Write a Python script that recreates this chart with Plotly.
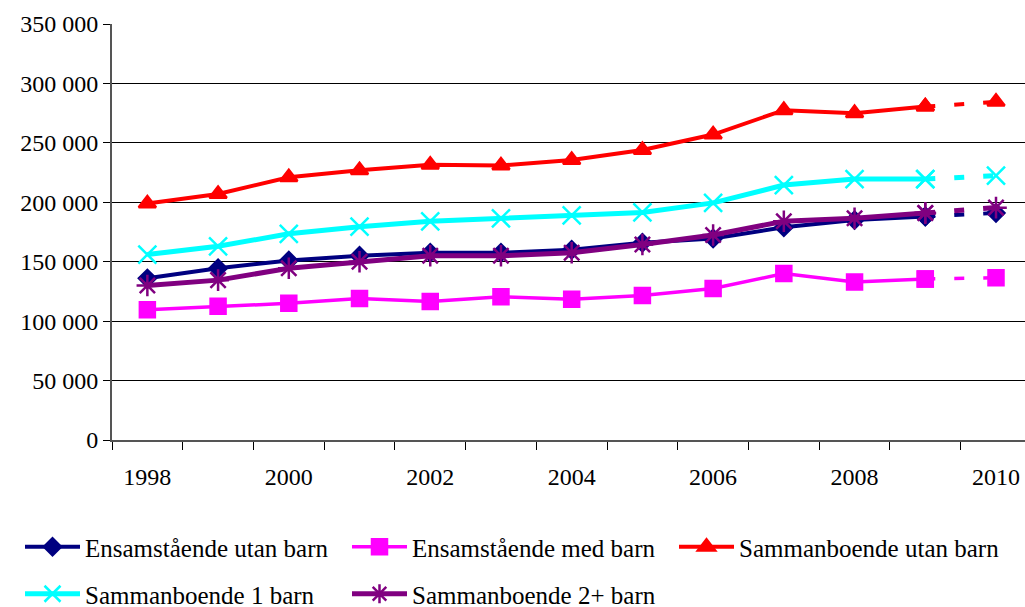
import plotly.graph_objects as go

years = [1998, 1999, 2000, 2001, 2002, 2003, 2004, 2005, 2006, 2007, 2008, 2009, 2010]
series_names = ["Ensamstående utan barn", "Ensamstående med barn", "Sammanboende utan barn",
                "Sammanboende 1 barn", "Sammanboende 2+ barn"]
ens_utan = [136000, 144500, 151000, 155000, 157500, 157500, 160000, 166000, 169500, 179000, 185000, 188000, 191000]
ens_med = [109500, 112500, 115000, 119000, 116500, 120500, 118500, 121500, 127500, 140000, 133000, 135500, 136500]
sam_utan = [199000, 207000, 221000, 227000, 231500, 231000, 235500, 244000, 257000, 277500, 275000, 280500, 284500]
sam_1 = [156000, 163000, 173500, 179500, 184000, 186500, 189000, 191500, 199500, 214500, 219500, 219500, 222500]
sam_2 = [130000, 134500, 144500, 150000, 155000, 155000, 157500, 164500, 172500, 184000, 186500, 191000, 195500]
x_ticks = [1998, 2000, 2002, 2004, 2006, 2008, 2010]
y_ticks = [0, 50000, 100000, 150000, 200000, 250000, 300000, 350000]

values = [ens_utan, ens_med, sam_utan, sam_1, sam_2]
colors = ["#000080", "#FF00FF", "#FF0000", "#00FFFF", "#800080"]
symbols = ["diamond", "square", "triangle-up", "x-thin-open", "asterisk-open"]
msizes = [13, 15, 15, 18, 18]
lwidths = [4, 3.5, 4, 5, 5]
legend_ids = ["legend", "legend2", "legend3", "legend4", "legend5"]

# plot area wanted at page x 112..1025, y 24..440
PLOT_L, PLOT_W, PLOT_B, PLOT_H = 112, 913, 440, 416
leg_px = [(20, 547), (347, 547), (674, 547), (20, 594), (347, 594)]

fig = go.Figure()
for name, v, c, s, ms, lw, lg in zip(series_names, values, colors, symbols, msizes, lwidths, legend_ids):
    fig.add_trace(go.Scatter(
        x=years[-2:], y=v[-2:], mode="lines+markers", legendgroup=name, showlegend=False,
        line=dict(color=c, width=lw, dash="10px,19px"),
        marker=dict(symbol=s, size=ms, color=c, line=dict(color=c, width=2.5)),
        hoverinfo="skip"))
    fig.add_trace(go.Scatter(
        x=years[:-1], y=v[:-1], mode="lines+markers", name=name, legendgroup=name, legend=lg,
        line=dict(color=c, width=lw),
        marker=dict(symbol=s, size=ms, color=c, line=dict(color=c, width=2.5))))

FAM = "Liberation Serif"
font = dict(family=FAM, size=24, color="#000000")
lfont = dict(family=FAM, size=25, color="#000000")

legend_layout = {}
for lg, (px, py) in zip(legend_ids, leg_px):
    legend_layout[lg] = dict(
        orientation="h", x=(px - PLOT_L) / PLOT_W, xanchor="left",
        y=(PLOT_B - py) / PLOT_H, yanchor="middle",
        font=lfont, bgcolor="rgba(0,0,0,0)", itemwidth=55, borderwidth=0)

fig.update_layout(
    width=1025, height=607,
    margin=dict(l=112, r=0, t=24, b=167, autoexpand=False),
    paper_bgcolor="white", plot_bgcolor="white",
    font=font,
    separators=", ",
    xaxis=dict(
        range=[1997.5, 2010.41], tickmode="array", tickvals=x_ticks, automargin=False,
        ticks="outside", ticklen=0, ticklabelstandoff=14, tickfont=font,
        ticklabeloverflow="allow",
        showgrid=False, zeroline=False,
        showline=True, linecolor="#555555", linewidth=2,
        minor=dict(tickmode="linear", tick0=1997.5, dtick=1, ticks="outside",
                   ticklen=8, tickcolor="#000000", tickwidth=1, showgrid=False),
    ),
    yaxis=dict(
        range=[0, 350000], tickmode="array", tickvals=y_ticks, tickformat=",d", automargin=False,
        ticks="outside", ticklen=7, tickcolor="#000000", ticklabelstandoff=0, tickfont=font,
        showgrid=True, gridcolor="#000000", gridwidth=1,
        zeroline=False, showline=True, linecolor="#555555", linewidth=2,
    ),
    showlegend=True,
    hovermode=False,
    **legend_layout,
)

fig.write_html("out.html",
               config={"displayModeBar": False},
               post_script="document.body.style.margin='0px';document.body.style.overflow='hidden';")
